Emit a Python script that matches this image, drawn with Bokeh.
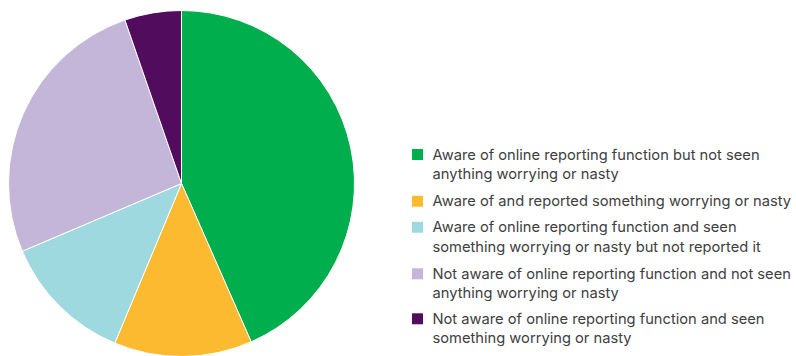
import math
from bokeh.plotting import figure
from bokeh.models import Range1d, ColumnDataSource
from bokeh.core.properties import value
from bokeh.embed import file_html
from bokeh.resources import INLINE

categories = [
    "Aware of online reporting function but not seen\nanything worrying or nasty",
    "Aware of and reported something worrying or nasty",
    "Aware of online reporting function and seen\nsomething worrying or nasty but not reported it",
    "Not aware of online reporting function and not seen\nanything worrying or nasty",
    "Not aware of online reporting function and seen\nsomething worrying or nasty",
]
shares = [43.4, 12.9, 12.3, 26.1, 5.3]
colors = ["#00AE4D", "#FBBA30", "#9FD9E0", "#C4B6D9", "#520C5E"]

W, H = 796, 356
p = figure(width=W, height=H, output_backend="svg", toolbar_location=None,
           x_range=Range1d(0, W), y_range=Range1d(0, H), min_border=0)
p.axis.visible = False
p.grid.visible = False
p.outline_line_color = None
p.background_fill_color = "white"

cx, cy, r = 181, H - 183, 173
total = sum(shares)
starts, ends = [], []
cum = 0.0
for s in shares:
    starts.append(math.pi / 2 - 2 * math.pi * cum / total)
    cum += s
    ends.append(math.pi / 2 - 2 * math.pi * cum / total)
src = ColumnDataSource(dict(start=starts, end=ends, color=colors))
p.wedge(x=cx, y=cy, radius=r, start_angle="start", end_angle="end",
        direction="clock", fill_color="color", line_color="white", line_width=1,
        source=src)

# legend
row_tops = [154, 200.7, 226.7, 273.3, 318.3]
line_h = 19.5
sq_x, txt_x = 417, 432
lx, ly, tx, ty, tt = [], [], [], [], []
for i, lab in enumerate(categories):
    y0 = row_tops[i]
    lx.append(sq_x)
    ly.append(H - y0)
    for j, line in enumerate(lab.split("\n")):
        tx.append(txt_x)
        ty.append(H - (y0 + j * line_h))
        tt.append(line)
p.rect(x=lx, y=ly, width=11, height=11, fill_color=colors, line_color=None)
p.text(x=tx, y=ty, text=tt, text_font=value("Inter"), text_font_size="14.7px",
       text_color="#404040", text_baseline="middle", text_align="left")

open("out.html", "w").write(file_html(p, INLINE))
